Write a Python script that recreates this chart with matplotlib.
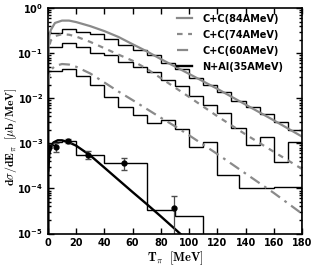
import matplotlib
matplotlib.use('Agg')
import matplotlib.pyplot as plt
import numpy as np
from matplotlib.ticker import FuncFormatter, LogLocator, MultipleLocator, NullFormatter

# %% data read off the reference
# histograms (10 MeV bins unless stated)
cc84_edges = list(range(0, 190, 10))
cc84_hist = [0.279, 0.342, 0.294, 0.265, 0.206, 0.151, 0.117, 0.089, 0.060,
             0.045, 0.028, 0.020, 0.014, 0.0089, 0.0063, 0.0045, 0.0030, 0.0020]

cc74_edges = list(range(0, 190, 10))
cc74_hist = [0.138, 0.170, 0.138, 0.102, 0.091, 0.065, 0.050, 0.038, 0.026,
             0.019, 0.0112, 0.0071, 0.0047, 0.0022, 0.00091, 0.00138, 0.00039, 0.0011]

cc60_edges = [0, 10, 20, 30, 40, 50, 60, 70, 80, 90, 100, 110, 120, 135, 160, 180]
cc60_hist = [0.040, 0.044, 0.032, 0.0195, 0.0107, 0.0063, 0.0043, 0.0028, 0.0033,
             0.0021, 0.00083, 0.00107, 0.0002, 0.000102, 0.000107]

nal_edges = [0, 5, 10, 20, 40, 70, 90, 110]
nal_hist = [9.1e-4, 1.05e-3, 1.12e-3, 5.5e-4, 3.6e-4, 3.3e-5, 2.5e-5]

# N+Al data points
nal_T = [1, 6, 14.5, 28.5, 54, 89.5]
nal_y = [8.5e-4, 8.5e-4, 1.12e-3, 5.5e-4, 3.6e-4, 3.6e-5]
nal_err_lo = [0.5e-4, 2.0e-4, 1.2e-4, 1.0e-4, 1.0e-4, 2.8e-5]
nal_err_hi = [0.5e-4, 1.5e-4, 1.4e-4, 1.3e-4, 1.1e-4, 3.2e-5]

# model curves
cc84_T = [0.3, 1, 2, 5, 10, 15, 20, 30, 40, 50, 60, 70, 80, 100, 120, 140, 160, 180]
cc84_y = [0.12, 0.24, 0.324, 0.468, 0.528, 0.528, 0.490, 0.398, 0.309, 0.229, 0.158,
          0.110, 0.074, 0.0347, 0.0162, 0.00724, 0.00324, 0.00141]

cc74_T = [0.3, 1, 2, 5, 10, 15, 20, 30, 40, 50, 60, 70, 80, 100, 120, 140, 160, 180]
cc74_y = [0.089, 0.141, 0.191, 0.240, 0.263, 0.257, 0.234, 0.178, 0.129, 0.093, 0.068,
          0.045, 0.028, 0.0107, 0.0040, 0.00158, 0.00065, 0.00027]

cc60_T = [0.3, 1, 2, 5, 10, 15, 20, 30, 40, 50, 60, 70, 80, 90, 100, 120, 140, 160, 180]
cc60_y = [0.020, 0.032, 0.042, 0.052, 0.0575, 0.056, 0.050, 0.0355, 0.0224, 0.0141,
          0.0091, 0.0058, 0.0037, 0.0024, 0.00151, 0.00058, 0.000214, 0.0000794, 0.0000275]

nal_curve_T = [0.3, 1, 2, 4, 7, 10, 15, 20, 30, 40, 50, 60, 70, 80, 90, 95]
nal_curve_y = [2.5e-4, 5.6e-4, 8.3e-4, 1.05e-3, 1.17e-3, 1.17e-3, 1.05e-3, 8.9e-4,
               5.4e-4, 2.9e-4, 1.55e-4, 8.3e-5, 4.5e-5, 2.4e-5, 1.26e-5, 9.1e-6]

labels = ['C+C(84AMeV)', 'C+C(74AMeV)', 'C+C(60AMeV)', 'N+Al(35AMeV)']

# %%
plt.rcParams['mathtext.fontset'] = 'cm'
plt.rcParams['font.weight'] = 'bold'
grey = '#8a8a8a'

fig = plt.figure(figsize=(3.15, 2.70), dpi=100)
ax = fig.add_axes([0.152, 0.135, 0.807, 0.835])

ax.plot(cc84_T, cc84_y, color=grey, lw=1.6, label=labels[0])
ax.plot(cc74_T, cc74_y, color=grey, lw=1.6, dashes=(2.5, 2.5), label=labels[1])
ax.plot(cc60_T, cc60_y, color=grey, lw=1.6, dashes=(5, 2.5, 1.2, 2.5), label=labels[2])
ax.plot(nal_curve_T, nal_curve_y, color='black', lw=1.7, label=labels[3])

for edges, vals in [(cc84_edges, cc84_hist), (cc74_edges, cc74_hist),
                    (cc60_edges, cc60_hist), (nal_edges, nal_hist)]:
    ax.stairs(vals, edges, color='black', lw=1.0)

ax.errorbar(nal_T, nal_y, yerr=[nal_err_lo, nal_err_hi], fmt='o', color='black',
            ms=3.5, ecolor='0.3', elinewidth=0.9, capsize=2.5)

ax.set_yscale('log')
ax.set_xlim(0, 180)
ax.set_ylim(1e-5, 1)
ax.xaxis.set_major_locator(MultipleLocator(20))
ax.yaxis.set_major_locator(LogLocator(base=10, numticks=10))
ax.yaxis.set_major_formatter(FuncFormatter(lambda v, p: r'$\mathdefault{10^{%d}}$' % round(np.log10(v))))
ax.yaxis.set_minor_locator(LogLocator(base=10, subs=np.arange(2, 10), numticks=10))
ax.yaxis.set_minor_formatter(NullFormatter())
ax.tick_params(which='both', direction='in', top=True, right=True, width=1)
ax.tick_params(which='major', length=4, labelsize=7)
ax.tick_params(which='minor', length=2.2)
for s in ax.spines.values():
    s.set_linewidth(1.2)

ax.set_xlabel(r'$\mathbf{T_{\pi}}\ \ \mathbf{[MeV]}$', fontsize=9, labelpad=1)
ax.set_ylabel(r'$\mathbf{d}\sigma\mathbf{/dE_{\pi}}\ \ \mathbf{[}\mu\mathbf{b/MeV]}$',
              fontsize=8.5)
ax.yaxis.set_label_coords(-0.113, 0.43)

leg = ax.legend(loc='upper right', bbox_to_anchor=(0.925, 0.975), frameon=False,
                prop={'weight': 'bold', 'size': 7}, borderpad=0, borderaxespad=0,
                handlelength=1.6, labelspacing=0.62, handletextpad=1.0)

fig.savefig('out.png', dpi=100)
